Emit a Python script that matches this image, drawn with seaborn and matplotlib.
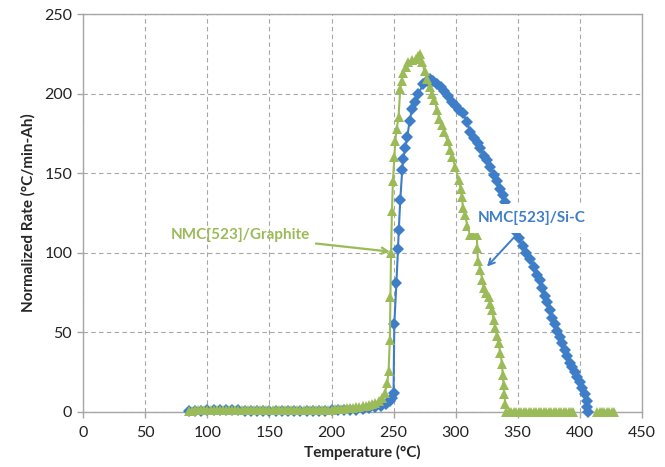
#!/usr/bin/env python3
import matplotlib
matplotlib.use("Agg")
import matplotlib.pyplot as plt
import pandas as pd
import seaborn as sns

# NMC[523]/Si-C (blue diamonds)
sic_temp = [85, 90, 95, 100, 105, 110, 115, 120, 125, 130, 135, 140, 145, 150, 155,
            160, 165, 170, 175, 180, 185, 190, 195, 200, 205, 210, 215, 220, 225, 230,
            235, 240, 244, 247, 249, 250, 250.6, 252.3, 253.6, 254.2, 255.4, 257, 257.7,
            259.5, 261, 263, 265, 267, 270, 274, 277, 279.5, 282, 285, 288, 291, 294,
            297, 300, 303, 306, 309, 312, 315, 318, 320, 322.5, 325, 328, 331, 333.5,
            336, 338, 340, 343, 346, 348.5, 351, 354, 357, 360, 363, 366, 368, 370,
            372, 374, 376, 378, 380, 382, 384, 386, 388, 390, 392, 394, 396, 398, 400,
            402, 404, 405.5, 406, 406.5]
sic_rate = [0.3, 0.6, 0.8, 0.9, 1.0, 1.0, 1.0, 1.0, 0.9, 0.8, 0.8, 0.7, 0.6, 0.5, 0.4,
            0.4, 0.4, 0.4, 0.5, 0.5, 0.6, 0.7, 0.8, 0.9, 1.0, 1.1, 1.3, 1.5, 1.8, 2.2,
            2.8, 3.6, 5, 7, 9, 12, 55, 81, 102.5, 114, 133, 152, 159,
            166, 172.5, 183, 190.5, 195, 200, 206, 208, 209, 208, 206, 204, 201.5, 198.5,
            195, 192, 190, 188, 182, 176, 172, 169, 166, 161, 158, 154, 149, 145,
            140, 136, 132, 126, 119, 113, 109, 104, 100, 96, 91, 86, 83, 78,
            73, 69, 64, 59, 55, 51, 47, 43, 39, 35, 31, 28, 25, 22, 19,
            15, 11, 7, 3, 0]

# NMC[523]/Graphite (green triangles)
gr_temp = [85, 87.5, 90, 92.5, 95, 97.5, 100, 102.5, 105, 107.5, 110, 112.5, 115, 117.5,
           120, 122.5, 125, 127.5, 130, 132.5, 135, 137.5, 140, 142.5, 145, 147.5, 150,
           152.5, 155, 157.5, 160, 162.5, 165, 167.5, 170, 172.5, 175, 177.5, 180, 182.5,
           185, 187.5, 190, 192.5, 195, 197.5, 200, 202.5, 205, 207.5, 210, 212.5, 215,
           217.5, 220, 222.5, 225, 227.5, 230, 232.5,
           235, 238, 241, 243, 245, 246, 247, 247.5, 248, 248.7, 249.5, 250.6, 251.4,
           252.5, 254, 255.4, 256.5, 258, 260, 262, 265, 268, 270, 271, 273, 275, 277,
           279, 281, 283, 285, 287, 289, 291, 293.5, 295.7, 297.5, 299.7, 302.4, 304,
           305, 306, 307.5, 309.5, 311.8, 314, 317, 317.5, 318, 320, 321.5, 322.6,
           324.5, 326.6, 328, 329.4, 330.7, 332, 333.4, 334.7, 336, 337.4, 338, 338.7,
           339.3, 340, 341, 343, 345, 347, 349, 351, 353, 355, 357, 359, 361, 363, 365,
           367, 369, 371, 373, 375, 377, 379, 381, 383, 385, 387, 389, 391, 393, 395]
gr_rate = [0.5, 0.8, 1.0, 1.1, 1.2, 1.3, 1.3, 1.4, 1.4, 1.4, 1.4, 1.4, 1.4, 1.3,
           1.3, 1.3, 1.2, 1.2, 1.1, 1.1, 1.0, 1.0, 1.0, 0.9, 0.9, 0.9, 0.9,
           0.9, 0.9, 0.9, 0.9, 0.9, 0.9, 1.0, 1.0, 1.0, 1.0, 1.1, 1.1, 1.1,
           1.2, 1.2, 1.3, 1.3, 1.4, 1.5, 1.5, 1.6, 1.8, 1.9, 2.0, 2.2, 2.4,
           2.6, 2.9, 3.2, 3.5, 4.0, 4.5, 5.0,
           5.5, 7, 9, 12, 18, 26, 45, 72, 100, 126, 145, 160, 170,
           178, 185, 203, 208, 213, 217, 220, 221, 222, 223.5, 225, 220, 214, 209,
           204, 200, 196, 190, 184, 180, 176, 170, 164.7, 160, 154, 146, 140,
           135, 128, 124, 117, 111, 111, 111, 103, 95, 89, 83, 78,
           75, 72, 68, 64, 58, 53, 48, 43, 37, 30, 23, 17,
           11, 5, 0, 0, 0, 0, 0, 0, 0, 0, 0, 0, 0, 0, 0,
           0, 0, 0, 0, 0, 0, 0, 0, 0, 0, 0, 0, 0, 0, 0]
gr_tail_temp = [414, 416, 418, 420, 422, 424, 426, 428]
gr_tail_rate = [0, 0, 0, 0, 0, 0, 0, 0]

BLUE = "#3e7dc7"
GREEN = "#9bbb59"
GRID = "#a6a6a6"

sic = pd.DataFrame({"temp": sic_temp, "rate": sic_rate, "seg": 0})
gr = pd.concat([
    pd.DataFrame({"temp": gr_temp, "rate": gr_rate, "seg": 1}),
    pd.DataFrame({"temp": gr_tail_temp, "rate": gr_tail_rate, "seg": 2}),
], ignore_index=True)

sns.set_style("white")
plt.rcParams["font.family"] = ["Lato", "DejaVu Sans"]

fig = plt.figure(figsize=(6.65, 4.67), dpi=100)
ax = fig.add_axes([0.1253, 0.118, 0.8397, 0.852])

sns.lineplot(data=sic, x="temp", y="rate", units="seg", estimator=None, sort=False,
             color=BLUE, marker="D", linewidth=1.5, markersize=6,
             markeredgewidth=0, legend=False, ax=ax)
n_blue = len(ax.lines)
sns.lineplot(data=gr, x="temp", y="rate", units="seg", estimator=None, sort=False,
             color=GREEN, marker="^", linewidth=1.5, markersize=7.5,
             markeredgewidth=0, legend=False, ax=ax)
# blue below green, both below the labels; markers not clipped at the axis
for i, line in enumerate(ax.lines):
    line.set_zorder(3 if i < n_blue else 4)
    line.set_clip_on(False)

ax.set_xlim(0, 450)
ax.set_ylim(0, 250)
ax.set_xticks(range(0, 451, 50))
ax.set_yticks(range(0, 251, 50))
ax.grid(True, color=GRID, linestyle=(0, (4, 3)), linewidth=0.8)
ax.set_axisbelow(True)
for s in ax.spines.values():
    s.set_color(GRID)
    s.set_linewidth(1.0)
ax.tick_params(axis="both", which="major", direction="out", length=4, width=1.0,
               color=GRID, labelsize=11.5, labelcolor="#222222", pad=4,
               bottom=True, left=True)
ax.tick_params(axis="x", pad=6)

ax.set_xlabel("Temperature (°C)", fontsize=11, fontweight="bold", labelpad=4)
ax.set_ylabel("Normalized Rate (°C/min-Ah)", fontsize=11, fontweight="bold", labelpad=6)

ax.annotate("NMC[523]/Graphite", xy=(247.2, 100.7), xytext=(126.5, 111),
            ha="center", va="center", fontsize=11, fontweight="bold", color=GREEN,
            arrowprops=dict(arrowstyle="->", color=GREEN, lw=1.6,
                            shrinkA=2, shrinkB=0), zorder=6)
ax.annotate("NMC[523]/Si-C", xy=(325.3, 91.3), xytext=(361.4, 121.7),
            ha="center", va="center", fontsize=11, fontweight="bold", color=BLUE,
            bbox=dict(boxstyle="square,pad=0.5", fc="white", ec="none"),
            arrowprops=dict(arrowstyle="->", color=BLUE, lw=1.4,
                            shrinkA=0, shrinkB=0),
            zorder=6)

fig.savefig("out.png", dpi=100)
